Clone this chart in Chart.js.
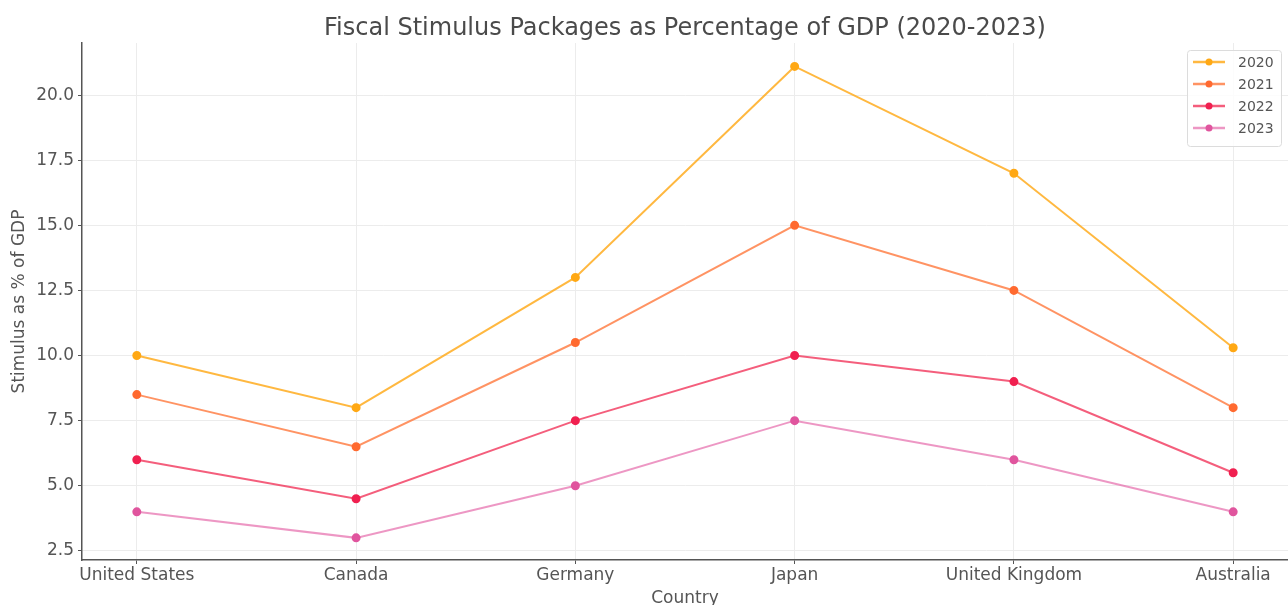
<!DOCTYPE html>
<html>
<head>
<meta charset="utf-8">
<script src="https://cdn.jsdelivr.net/npm/chart.js@4.4.1/dist/chart.umd.min.js"></script>
<style>
  html, body { margin: 0; padding: 0; background: #fff; }
  #wrap { width: 1288px; height: 605px; }
</style>
</head>
<body>
<div id="wrap"><canvas id="c" width="1288" height="605"></canvas></div>
<script>
const countries = ["United States", "Canada", "Germany", "Japan", "United Kingdom", "Australia"];
const years = ["2020", "2021", "2022", "2023"];
const s2020 = [10, 8, 13, 21.1, 17, 10.3];
const s2021 = [8.5, 6.5, 10.5, 15, 12.5, 8];
const s2022 = [6, 4.5, 7.5, 10, 9, 5.5];
const s2023 = [4, 3, 5, 7.5, 6, 4];
const yTicks = [2.5, 5, 7.5, 10, 12.5, 15, 17.5, 20];

const seriesValues = [s2020, s2021, s2022, s2023];
const markerColors = ["#FFA814", "#FF6A30", "#F02050", "#E0559E"];
const lineColors = ["rgba(255,172,30,0.85)", "rgba(255,120,60,0.8)", "rgba(240,40,80,0.75)", "rgba(228,95,165,0.65)"];

const TEXT = "#555";
const FONT = "'DejaVu Sans', sans-serif";

const datasets = seriesValues.map((vals, k) => ({
  label: years[k],
  data: vals.map((v, i) => ({ x: i, y: v })),
  borderColor: lineColors[k],
  backgroundColor: markerColors[k],
  pointBackgroundColor: markerColors[k],
  pointBorderColor: markerColors[k],
  pointRadius: 3.5,
  pointHoverRadius: 3.5,
  borderWidth: 2,
  tension: 0,
  fill: false
}));

const legendInside = {
  id: 'legendInside',
  afterDraw(chart) {
    const ctx = chart.ctx;
    const ca = chart.chartArea;
    const w = 94, h = 96;
    const x0 = ca.right - w - 7, y0 = ca.top + 7;
    ctx.save();
    ctx.fillStyle = 'rgba(255,255,255,0.85)';
    ctx.strokeStyle = '#dcdcdc';
    ctx.lineWidth = 1;
    ctx.beginPath();
    if (ctx.roundRect) ctx.roundRect(x0 + 0.5, y0 + 0.5, w, h, 3); else ctx.rect(x0 + 0.5, y0 + 0.5, w, h);
    ctx.fill();
    ctx.stroke();
    ctx.font = "14px " + FONT;
    ctx.textBaseline = 'middle';
    ctx.textAlign = 'left';
    years.forEach((yr, k) => {
      const cy = y0 + 12 + k * 22;
      ctx.strokeStyle = lineColors[k];
      ctx.lineWidth = 2.5;
      ctx.beginPath();
      ctx.moveTo(x0 + 6, cy);
      ctx.lineTo(x0 + 38, cy);
      ctx.stroke();
      ctx.fillStyle = markerColors[k];
      ctx.beginPath();
      ctx.arc(x0 + 22, cy, 3.5, 0, Math.PI * 2);
      ctx.fill();
      ctx.fillStyle = TEXT;
      ctx.fillText(yr, x0 + 51, cy + 1);
    });
    ctx.restore();
  }
};

new Chart(document.getElementById('c'), {
  type: 'line',
  data: { datasets },
  plugins: [legendInside],
  options: {
    responsive: false,
    animation: false,
    layout: { autoPadding: false, padding: { left: 4, right: 0, top: 0, bottom: 0 } },
    plugins: {
      legend: { display: false },
      tooltip: { enabled: false },
      title: {
        display: true,
        text: "Fiscal Stimulus Packages as Percentage of GDP (2020-2023)",
        color: "#4a4a4a",
        font: { family: FONT, size: 24, weight: 'normal' },
        padding: { top: 14.6, bottom: -0.4 },
        fullSize: false
      }
    },
    scales: {
      x: {
        type: 'linear',
        min: -0.25,
        max: 5.25,
        afterBuildTicks(scale) { scale.ticks = countries.map((_, i) => ({ value: i })); },
        afterFit(scale) { scale.height = 45; scale.paddingLeft = 0; scale.paddingRight = 0; },
        ticks: {
          autoSkip: false,
          maxRotation: 0,
          padding: 1,
          color: TEXT,
          font: { family: FONT, size: 17 },
          callback: (v) => countries[v]
        },
        grid: { color: '#ececec', tickColor: '#555', tickLength: 4, lineWidth: 1 },
        border: { color: '#555', width: 1.5 },
        title: {
          display: true,
          text: 'Country',
          color: TEXT,
          font: { family: FONT, size: 17 },
          padding: { top: 0, bottom: -4 }
        }
      },
      y: {
        type: 'linear',
        min: 2.15,
        max: 22.0,
        afterBuildTicks(scale) { scale.ticks = yTicks.map(v => ({ value: v })); },
        afterFit(scale) { scale.width = 78; scale.paddingTop = 0; scale.paddingBottom = 0; },
        ticks: {
          padding: 4,
          color: TEXT,
          font: { family: FONT, size: 17 },
          callback: (v) => Number(v).toFixed(1)
        },
        grid: { color: '#ececec', tickColor: '#555', tickLength: 4, lineWidth: 1 },
        border: { color: '#555', width: 1.5 },
        title: {
          display: true,
          text: 'Stimulus as % of GDP',
          color: TEXT,
          font: { family: FONT, size: 17 },
          padding: { top: 5, bottom: 2 }
        }
      }
    }
  }
});
</script>
</body>
</html>
